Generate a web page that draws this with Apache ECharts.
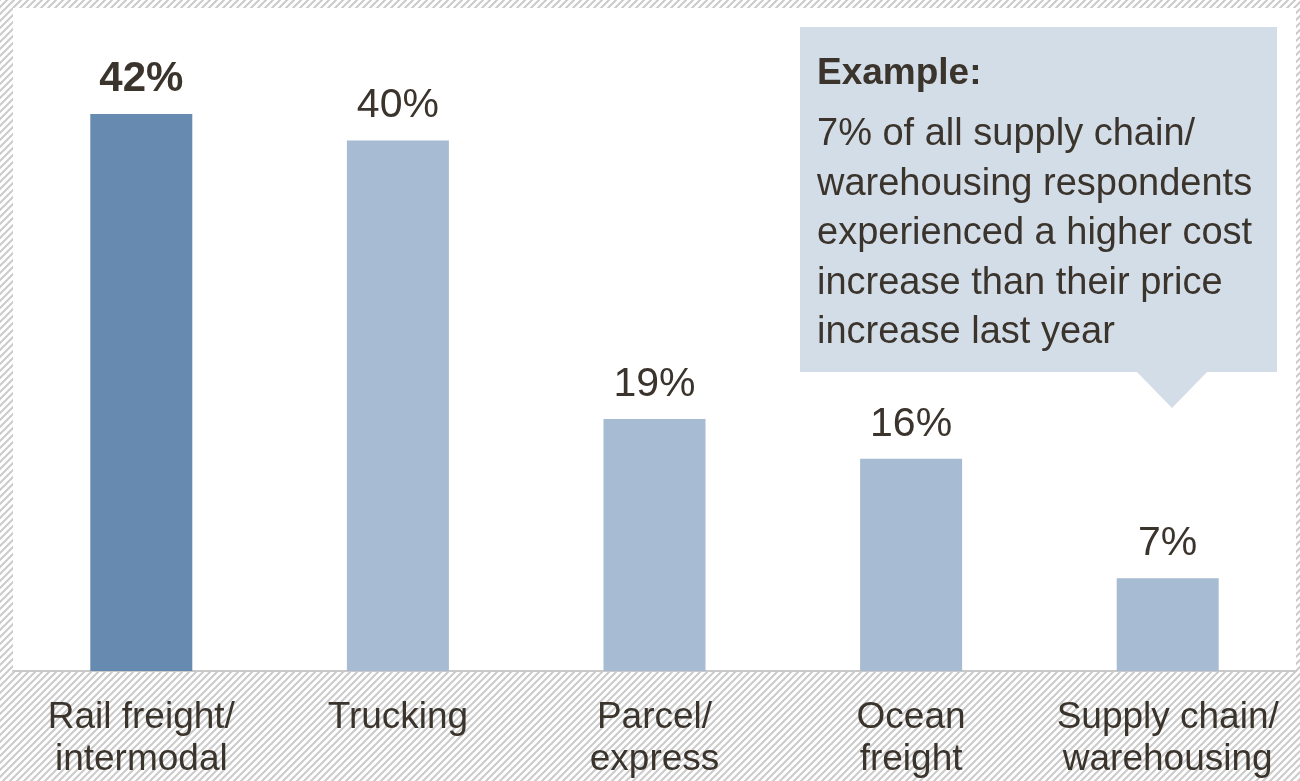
<!DOCTYPE html>
<html>
<head>
<meta charset="utf-8">
<script src="https://cdn.jsdelivr.net/npm/echarts@6/dist/echarts.min.js"></script>
<style>
  html, body { margin: 0; padding: 0; background: #fff; }
  #chart { width: 1300px; height: 781px; }
</style>
</head>
<body>
<div id="chart"></div>
<script>
// Share of respondents whose cost increase outpaced their price increase
const categories = ['Rail freight/\nintermodal', 'Trucking', 'Parcel/\nexpress', 'Ocean\nfreight', 'Supply chain/\nwarehousing'];
const values = [42, 40, 19, 16, 7];
const highlightIndex = 0;

const calloutTitle = 'Example:';
const calloutLines = [
  '7% of all supply chain/',
  'warehousing respondents',
  'experienced a higher cost',
  'increase than their price',
  'increase last year'
];

const textColor = '#3b342d';
const fontFamily = '"Liberation Sans", Arial, Helvetica, sans-serif';

// Diagonal hatch tile for the page background
function hatchTile() {
  const s = 7;
  const c = document.createElement('canvas');
  c.width = s; c.height = s;
  const g = c.getContext('2d');
  g.fillStyle = '#ffffff';
  g.fillRect(0, 0, s, s);
  g.strokeStyle = '#cbcbcb';
  g.lineWidth = 2;
  g.beginPath();
  g.moveTo(-1, s + 1); g.lineTo(s + 1, -1);
  g.moveTo(-1, 1); g.lineTo(1, -1);
  g.moveTo(s - 1, s + 1); g.lineTo(s + 1, s - 1);
  g.stroke();
  return c;
}

const chart = echarts.init(document.getElementById('chart'), null, { renderer: 'canvas' });

const barData = values.map((v, i) => ({
  value: v,
  itemStyle: { color: i === highlightIndex ? '#678bb0' : '#a7bbd2' },
  label: i === highlightIndex ? { fontWeight: 'bold', fontSize: 42 } : {}
}));

const calloutText = '{t|' + calloutTitle + '}\n' + calloutLines.map(l => '{b|' + l + '}').join('\n');

chart.setOption({
  animation: false,
  backgroundColor: { image: hatchTile(), repeat: 'repeat' },
  grid: {
    left: 13, right: 4, top: 8, bottom: 110,
    show: true, backgroundColor: '#ffffff', borderWidth: 0
  },
  xAxis: {
    type: 'category',
    data: categories,
    axisLine: { show: true, lineStyle: { color: '#c9c9c9', width: 2 } },
    axisTick: { show: false },
    axisLabel: {
      color: textColor, fontSize: 37, fontFamily: fontFamily,
      lineHeight: 42, margin: 26, interval: 0
    }
  },
  yAxis: {
    type: 'value', min: 0, max: 50,
    show: false, splitLine: { show: false }
  },
  series: [{
    type: 'bar',
    data: barData,
    barWidth: 102,
    label: {
      show: true, position: 'top', distance: 14,
      formatter: '{c}%', color: textColor,
      fontSize: 41, fontFamily: fontFamily
    }
  }],
  graphic: [{
    type: 'group',
    left: 800, top: 27,
    children: [{
      type: 'polygon',
      shape: { points: [[0, 0], [477, 0], [477, 345], [407, 345], [372, 381], [337, 345], [0, 345]] },
      style: { fill: '#d3dde7' }
    }, {
      type: 'text',
      x: 17, y: 11,
      style: {
        text: calloutText,
        fill: textColor,
        fontFamily: fontFamily,
        rich: {
          t: { fontSize: 37, fontWeight: 'bold', lineHeight: 72, fontFamily: fontFamily, fill: textColor },
          b: { fontSize: 38, lineHeight: 49.5, fontFamily: fontFamily, fill: textColor }
        }
      }
    }]
  }]
});
</script>
</body>
</html>
